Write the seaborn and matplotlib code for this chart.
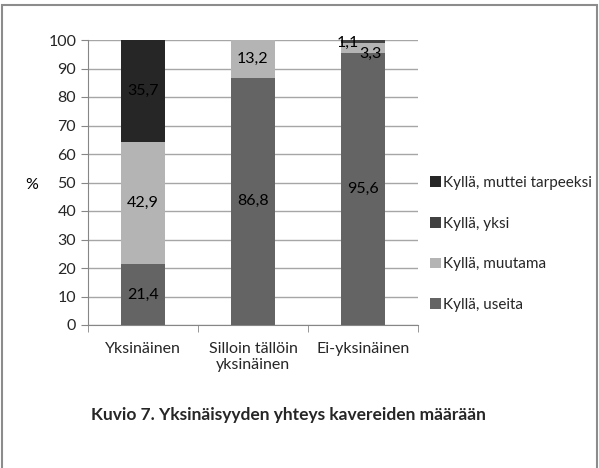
import numpy as np
import pandas as pd
import seaborn as sns
import matplotlib.pyplot as plt
from matplotlib.patches import Patch, Rectangle

# data
categories = ['Yksinäinen', 'Silloin tällöin\nyksinäinen', 'Ei-yksinäinen']
useita = [21.4, 86.8, 95.6]
muutama = [42.9, 13.2, 3.3]
yksi = [0.0, 0.0, 1.1]
muttei = [35.7, 0.0, 0.0]
series_names = ['Kyllä, useita', 'Kyllä, muutama', 'Kyllä, yksi', 'Kyllä, muttei tarpeeksi']
colors = ['#646464', '#b4b4b4', '#414141', '#262626']

sns.set_style('white')
plt.rcParams['font.family'] = ['Lato', 'DejaVu Sans']

df = pd.DataFrame({'cat': categories, series_names[0]: useita, series_names[1]: muutama,
                   series_names[2]: yksi, series_names[3]: muttei})
cum = df[series_names].cumsum(axis=1)

fig = plt.figure(figsize=(5.99, 4.68), dpi=100)
ax = fig.add_axes([88 / 599, 1 - 325 / 468, 330 / 599, 285 / 468])

# cumulative bars drawn from top series down
for name, col in reversed(list(zip(series_names, colors))):
    sns.barplot(x=df['cat'], y=cum[name], color=col, width=0.4, ax=ax,
                saturation=1, edgecolor='none', zorder=3)

# value labels
offsets = {(2, 2): (-11, -1), (2, 1): (5, -4)}
for i in range(len(categories)):
    bottom = 0
    for j, name in enumerate(series_names):
        v = df[name][i]
        if v > 0:
            dx, dy = offsets.get((i, j), (0, 0))
            ax.annotate(f'{v:.1f}'.replace('.', ','), (i, bottom + v / 2),
                        xytext=(dx, dy), textcoords='offset points',
                        ha='center', va='center', fontsize=11.5, color='black', zorder=5)
        bottom += v

ax.set_ylim(0, 100)
ax.set_xlim(-0.5, 2.5)
ax.set_yticks(np.arange(0, 101, 10))
ax.yaxis.grid(True, color='#a6a6a6', linewidth=1, zorder=0)
ax.set_axisbelow(True)
ax.set_ylabel('%', rotation=0, fontsize=11.5, color='black', va='center')
ax.yaxis.set_label_coords(-0.17, 0.49)
ax.set_xlabel('')
ax.tick_params(axis='y', length=5, color='#868686', labelsize=11.5, direction='out', left=True)
ax.tick_params(axis='x', length=0, labelsize=11.5, pad=12)
ax.set_xticks([0, 1, 2])
ax.set_xticklabels(categories)
ax.set_xticks([-0.5, 0.5, 1.5, 2.5], minor=True)
ax.tick_params(axis='x', which='minor', length=5, color='#868686', direction='out', bottom=True)
for s in ['top', 'right']:
    ax.spines[s].set_visible(False)
for s in ['left', 'bottom']:
    ax.spines[s].set_color('#868686')

handles = [Patch(facecolor=c, edgecolor='none', label=n)
           for n, c in reversed(list(zip(series_names, colors)))]
fig.legend(handles=handles, loc='center left', bbox_to_anchor=(424 / 599, 1 - 244 / 468),
           frameon=False, fontsize=11, handlelength=0.7, handleheight=0.7,
           handletextpad=0.15, labelspacing=1.75, borderaxespad=0)

fig.text(288 / 599, 1 - 415 / 468, 'Kuvio 7. Yksinäisyyden yhteys kavereiden määrään',
         ha='center', va='center', fontsize=12.5, fontweight='bold')

fig.patches.append(Rectangle((0.004, -0.01), 0.992, 1.0, transform=fig.transFigure,
                             fill=False, edgecolor='#8c8c8c', linewidth=1.5))

fig.savefig('out.png', dpi=100)
